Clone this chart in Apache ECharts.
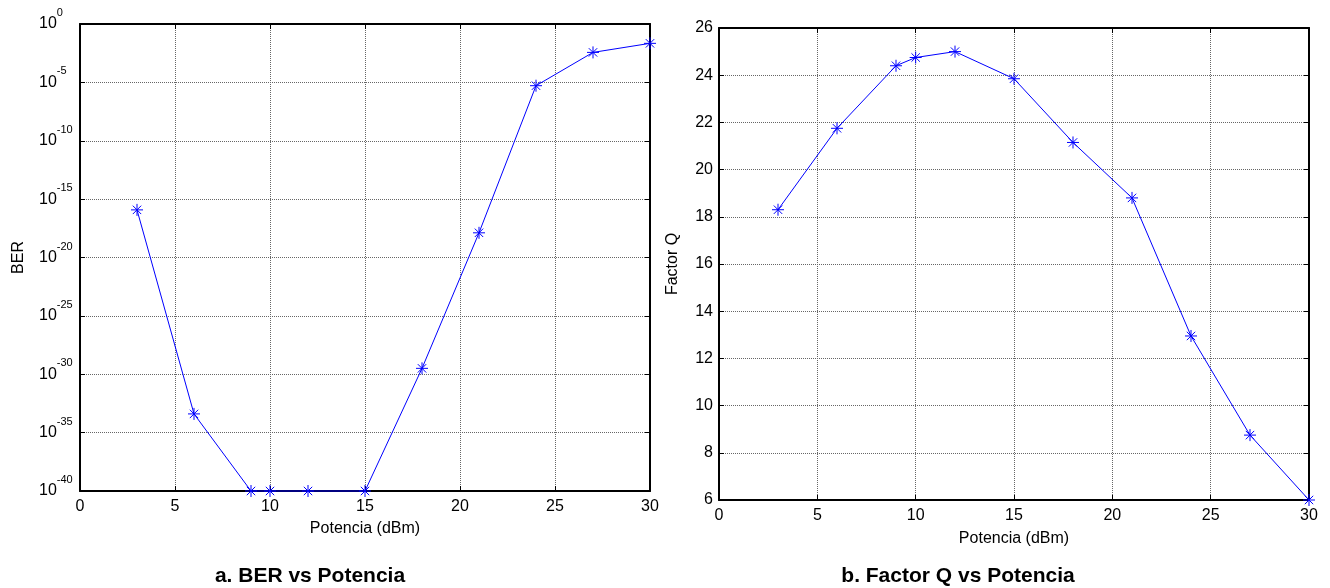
<!DOCTYPE html>
<html>
<head>
<meta charset="utf-8">
<script src="https://cdn.jsdelivr.net/npm/echarts@6/dist/echarts.min.js"></script>
<style>
  html, body { margin: 0; padding: 0; background: #fff; }
  #chart { width: 1330px; height: 588px; }
</style>
</head>
<body>
<div id="chart"></div>
<script>
// Launch power sweep (dBm)
const potencia = [3, 6, 9, 10, 12, 15, 18, 21, 24, 27, 30];
// Bit error rate at each power
const ber = [1.2e-16, 4e-34, 1e-40, 1e-40, 1e-40, 1e-40, 3.2e-30, 1.3e-18, 5.2e-6, 3.7e-3, 2.2e-2];
// Q factor at each power
const factorQ = [18.3, 21.75, 24.4, 24.75, 25.0, 23.85, 21.15, 18.8, 12.95, 8.75, 6.0];

// Axis ranges / ticks
const xTicks = [0, 5, 10, 15, 20, 25, 30];
const berExpTicks = [0, -5, -10, -15, -20, -25, -30, -35, -40];
const qTicks = [6, 8, 10, 12, 14, 16, 18, 20, 22, 24, 26];

const FONT = '"Liberation Sans", Arial, sans-serif';
const BLUE = '#0000ff';
const STAR = 'path://M5,0L5,10M0,5L10,5M1.5,1.5L8.5,8.5M1.5,8.5L8.5,1.5';

const box = { show: true, onZero: false, lineStyle: { color: '#000', width: 2 } };
const innerTick = { show: true, inside: true, length: 5, lineStyle: { color: '#000', width: 1 } };
const grid = { show: true, lineStyle: { color: '#666', type: 'dotted', width: 1 } };
const tickFont = { color: '#000', fontFamily: FONT, fontSize: 16 };
const nameFont = { color: '#000', fontFamily: FONT, fontSize: 16 };

function xPair(gi, gap) {
  const base = {
    type: 'value', gridIndex: gi,
    min: xTicks[0], max: xTicks[xTicks.length - 1], interval: xTicks[1] - xTicks[0],
    axisLine: box, axisTick: innerTick
  };
  return [
    Object.assign({}, base, {
      position: 'bottom',
      name: 'Potencia (dBm)', nameLocation: 'middle', nameGap: gap, nameTextStyle: nameFont,
      axisLabel: Object.assign({ margin: 8 }, tickFont),
      splitLine: grid
    }),
    Object.assign({}, base, { position: 'top', axisLabel: { show: false }, splitLine: { show: false } })
  ];
}

const option = {
  animation: false,
  backgroundColor: '#fff',
  grid: [
    { left: 80, top: 24, width: 570, height: 467 },
    { left: 719, top: 28, width: 590, height: 472 }
  ],
  xAxis: [].concat(xPair(0, 30), xPair(1, 31)),
  yAxis: [
    {
      type: 'value', gridIndex: 0, position: 'left',
      min: berExpTicks[berExpTicks.length - 1], max: berExpTicks[0], interval: 5,
      name: 'BER', nameLocation: 'middle', nameGap: 53, nameTextStyle: nameFont,
      axisLine: box, axisTick: innerTick, splitLine: grid,
      axisLabel: {
        align: 'left', margin: 41,
        formatter: v => '{b|10}{s|' + Math.round(v) + '}',
        rich: {
          b: { fontFamily: FONT, fontSize: 16, color: '#000' },
          s: { fontFamily: FONT, fontSize: 11, color: '#000', padding: [0, 0, 22, 0] }
        }
      }
    },
    {
      type: 'value', gridIndex: 0, position: 'right',
      min: -40, max: 0, interval: 5,
      axisLine: box, axisTick: innerTick, axisLabel: { show: false }, splitLine: { show: false }
    },
    {
      type: 'value', gridIndex: 1, position: 'left',
      min: qTicks[0], max: qTicks[qTicks.length - 1], interval: 2,
      name: 'Factor Q', nameLocation: 'middle', nameGap: 38, nameTextStyle: nameFont,
      axisLine: box, axisTick: innerTick, splitLine: grid,
      axisLabel: Object.assign({ margin: 6 }, tickFont)
    },
    {
      type: 'value', gridIndex: 1, position: 'right',
      min: 6, max: 26, interval: 2,
      axisLine: box, axisTick: innerTick, axisLabel: { show: false }, splitLine: { show: false }
    }
  ],
  series: [
    {
      type: 'line', xAxisIndex: 0, yAxisIndex: 0, clip: false,
      data: potencia.map((p, i) => [p, Math.log10(ber[i])]),
      symbol: STAR, symbolSize: 12,
      itemStyle: { color: BLUE, borderColor: BLUE, borderWidth: 1 },
      lineStyle: { color: BLUE, width: 1 }
    },
    {
      type: 'line', xAxisIndex: 2, yAxisIndex: 2, clip: false,
      data: potencia.map((p, i) => [p, factorQ[i]]),
      symbol: STAR, symbolSize: 12,
      itemStyle: { color: BLUE, borderColor: BLUE, borderWidth: 1 },
      lineStyle: { color: BLUE, width: 1 }
    }
  ],
  graphic: [
    {
      type: 'text', x: 310, y: 576,
      style: { text: 'a. BER vs Potencia', font: 'bold 21px ' + FONT, fill: '#000',
               align: 'center', verticalAlign: 'middle', textAlign: 'center', textVerticalAlign: 'middle' }
    },
    {
      type: 'text', x: 958, y: 576,
      style: { text: 'b. Factor Q vs Potencia', font: 'bold 21px ' + FONT, fill: '#000',
               align: 'center', verticalAlign: 'middle', textAlign: 'center', textVerticalAlign: 'middle' }
    }
  ]
};

const chart = echarts.init(document.getElementById('chart'), null, { renderer: 'canvas' });
chart.setOption(option);
</script>
</body>
</html>
